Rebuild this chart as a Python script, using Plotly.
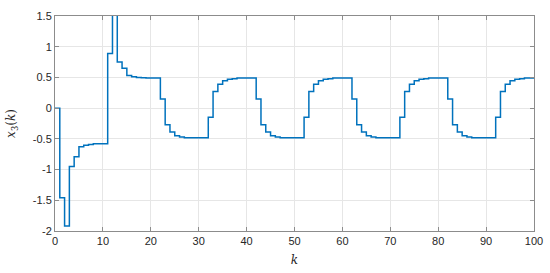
import plotly.graph_objects as go

k = list(range(0, 101))
x3 = [
    0.0, -1.46, -1.92, -0.95, -0.79, -0.63, -0.605, -0.59, -0.58, -0.578,
    -0.578, 0.89, 1.6, 0.75, 0.65, 0.53, 0.51, 0.50, 0.495, 0.49,
    0.49, 0.49, 0.15, -0.27, -0.39, -0.45, -0.47, -0.48, -0.48, -0.48,
    -0.48, -0.48, -0.15, 0.27, 0.39, 0.445, 0.47, 0.48, 0.49, 0.49,
    0.49, 0.49, 0.15, -0.27, -0.39, -0.45, -0.47, -0.48, -0.48, -0.48,
    -0.48, -0.48, -0.15, 0.27, 0.39, 0.445, 0.47, 0.48, 0.49, 0.49,
    0.49, 0.49, 0.15, -0.27, -0.39, -0.45, -0.47, -0.48, -0.48, -0.48,
    -0.48, -0.48, -0.15, 0.27, 0.39, 0.445, 0.47, 0.48, 0.49, 0.49,
    0.49, 0.49, 0.15, -0.27, -0.39, -0.45, -0.47, -0.48, -0.48, -0.48,
    -0.48, -0.48, -0.15, 0.27, 0.39, 0.445, 0.47, 0.48, 0.49, 0.49,
    0.49,
]
x_ticks = [0, 10, 20, 30, 40, 50, 60, 70, 80, 90, 100]
y_ticks = [-2, -1.5, -1, -0.5, 0, 0.5, 1, 1.5]
y_tick_text = ["-2", "-1.5", "-1", "-0.5", "0", "0.5", "1", "1.5"]

fig = go.Figure()
fig.add_trace(go.Scatter(
    x=k, y=x3, mode="lines", line_shape="hv",
    line=dict(color="#0072BD", width=1.5), showlegend=False,
))

axis_common = dict(
    showline=True, linecolor="#8c8c8c", linewidth=1, mirror="ticks",
    ticks="inside", ticklen=4, tickcolor="#8c8c8c",
    showgrid=True, gridcolor="#e6e6e6", gridwidth=1,
    zeroline=False, automargin=False,
    tickfont=dict(family="Liberation Sans, Arial", size=11, color="#262626"),
)
fig.update_xaxes(range=[0, 100], tickvals=x_ticks, **axis_common,
                 title=dict(text="<i>k</i>", standoff=9,
                            font=dict(family="DejaVu Serif, serif", size=12, color="#262626")))
fig.update_yaxes(range=[-2, 1.5], tickvals=y_ticks, ticktext=y_tick_text, **axis_common,
                 title=dict(text="<i>x</i><sub>3</sub>(<i>k</i>)", standoff=14,
                            font=dict(family="DejaVu Serif, serif", size=12, color="#262626")))
fig.update_layout(
    width=550, height=273,
    margin=dict(l=55, r=16, t=16, b=42),
    paper_bgcolor="white", plot_bgcolor="white",
)
fig.write_html("out.html", config={"displayModeBar": False},
               post_script="document.body.style.margin='0';")
